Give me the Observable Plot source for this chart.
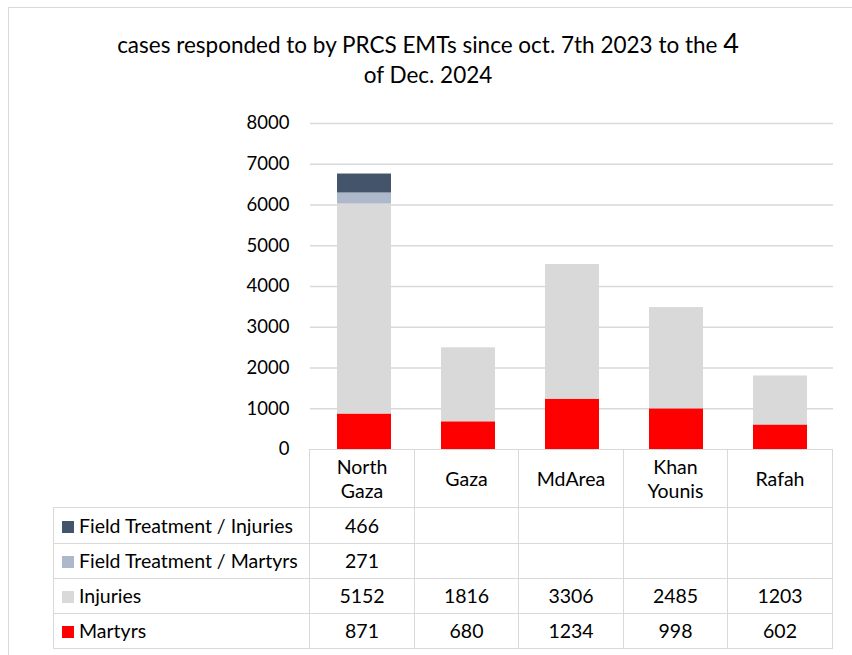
<!DOCTYPE html>
<html>
<head>
<meta charset="utf-8">
<script src="https://cdn.jsdelivr.net/npm/d3@7"></script>
<script src="https://cdn.jsdelivr.net/npm/@observablehq/plot@0.6"></script>
<style>
  html, body { margin: 0; padding: 0; background: #fff; overflow: hidden; }
  #wrap { position: relative; width: 852px; height: 655px; font-family: Lato, "Noto Sans", sans-serif; color: #000; overflow: hidden; }
  #frame { position: absolute; left: 8px; top: 7px; width: 900px; height: 700px; border: 1.5px solid #d9d9d9; box-sizing: border-box; }
  #title { position: absolute; left: 78px; width: 700px; top: 28px; text-align: center; font-size: 22.5px; line-height: 30px; }
  #title .big { font-size: 27px; }
  #chart { position: absolute; left: 0; top: 0; }
  #tbl { position: absolute; left: 53px; top: 449px; border-collapse: collapse; font-size: 19.5px; table-layout: fixed; }
  #tbl td { border: 1.5px solid #d9d9d9; padding: 0; text-align: center; vertical-align: middle; line-height: 24px; }
  #tbl td.lab { text-align: left; white-space: nowrap; }
  #tbl td.corner { border-top: none; border-left: none; }
  .sw { display: inline-block; width: 12px; height: 12px; margin: 0 5px 0 8px; vertical-align: 0px; }
</style>
</head>
<body>
<div id="wrap">
  <div id="frame"></div>
  <div id="title">cases responded to by PRCS EMTs since oct. 7th 2023 to the <span class="big">4</span><br>of Dec. 2024</div>
  <div id="chart"></div>
  <table id="tbl"></table>
</div>
<script>
const regions = ["North Gaza", "Gaza", "MdArea", "Khan Younis", "Rafah"];
const regionLabels = [["North", "Gaza"], ["Gaza"], ["MdArea"], ["Khan", "Younis"], ["Rafah"]];
const series = ["Martyrs", "Injuries", "Field Treatment / Martyrs", "Field Treatment / Injuries"];
const colors = ["#ff0000", "#d9d9d9", "#adb9ca", "#44546a"];
const martyrs = [871, 680, 1234, 998, 602];
const injuries = [5152, 1816, 3306, 2485, 1203];
const ftMartyrs = [271, null, null, null, null];
const ftInjuries = [466, null, null, null, null];
const yTicks = [0, 1000, 2000, 3000, 4000, 5000, 6000, 7000, 8000];

const valuesBySeries = [martyrs, injuries, ftMartyrs, ftInjuries];
const rows = [];
series.forEach((s, si) => {
  regions.forEach((r, ri) => {
    const v = valuesBySeries[si][ri];
    if (v != null) rows.push({region: r, series: s, value: v});
  });
});

const chart = Plot.plot({
  width: 852,
  height: 460,
  marginLeft: 310,
  marginRight: 19,
  marginTop: 123,
  marginBottom: 11,
  style: {fontFamily: "Lato, 'Noto Sans', sans-serif", fontSize: "18.5px", color: "#000", background: "transparent"},
  x: {domain: regions, paddingInner: 0.484, paddingOuter: 0.242, axis: null},
  y: {domain: [0, 8000], ticks: yTicks, tickSize: 0, tickPadding: 21, label: null, tickFormat: d => String(d)},
  color: {domain: series, range: colors},
  marks: [
    Plot.gridY(yTicks.slice(1), {stroke: "#d9d9d9", strokeOpacity: 1, strokeWidth: 1.5}),
    Plot.axisY({ticks: yTicks, tickSize: 0, tickPadding: 21, label: null, tickFormat: d => String(d), fontSize: 18.5}),
    Plot.barY(rows, Plot.stackY({x: "region", y: "value", fill: "series", order: series}))
  ]
});
document.getElementById("chart").appendChild(chart);

// data table
const tbl = document.getElementById("tbl");
const colW = [256, 105, 104, 105, 104, 105];
const cg = document.createElement("colgroup");
colW.forEach(w => { const c = document.createElement("col"); c.style.width = w + "px"; cg.appendChild(c); });
tbl.appendChild(cg);
const head = document.createElement("tr");
head.style.height = "58px";
const corner = document.createElement("td"); corner.className = "corner"; head.appendChild(corner);
regionLabels.forEach(lines => {
  const td = document.createElement("td");
  td.innerHTML = lines.join("<br>");
  head.appendChild(td);
});
tbl.appendChild(head);
const tableOrder = [3, 2, 1, 0];
const rowH = [36, 35, 35, 35];
tableOrder.forEach((si, k) => {
  const tr = document.createElement("tr");
  tr.style.height = rowH[k] + "px";
  const lab = document.createElement("td");
  lab.className = "lab";
  lab.innerHTML = `<span class="sw" style="background:${colors[si]}"></span>${series[si]}`;
  tr.appendChild(lab);
  valuesBySeries[si].forEach(v => {
    const td = document.createElement("td");
    td.textContent = v == null ? "" : String(v);
    tr.appendChild(td);
  });
  tbl.appendChild(tr);
});
</script>
</body>
</html>
